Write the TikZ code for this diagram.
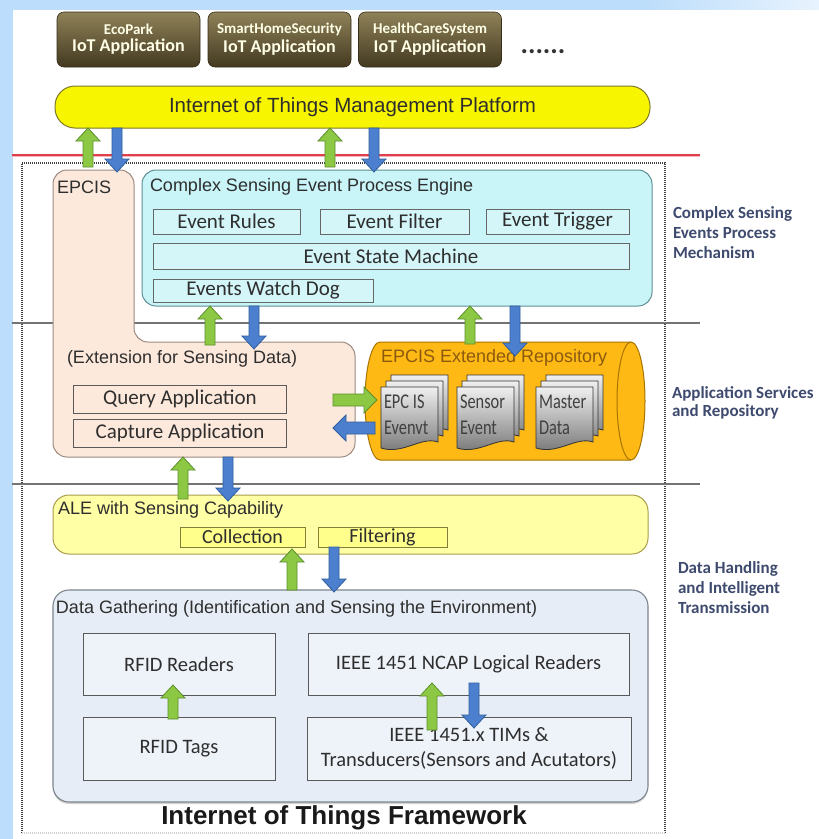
\documentclass[tikz,border=0pt]{standalone}
\usepackage{fontspec}
\setmainfont{Carlito}
\newfontfamily\titlefont{Liberation Sans}
\newfontfamily\condfont[FakeStretch=0.78]{Carlito}
\usetikzlibrary{calc,shadows}

\definecolor{bgblue}{HTML}{BCDDFB}
\definecolor{peach}{HTML}{FDE9DC}
\definecolor{peachline}{HTML}{9C8A80}
\definecolor{cyanfill}{HTML}{C9F4F8}
\definecolor{cyanline}{HTML}{5F8F95}
\definecolor{platyellow}{HTML}{F7F500}
\definecolor{yline}{HTML}{7E7A2A}
\definecolor{aleyellow}{HTML}{FFFFA6}
\definecolor{aleline}{HTML}{A89C4A}
\definecolor{subyellow}{HTML}{FFFF8C}
\definecolor{dgfill}{HTML}{E7EDF6}
\definecolor{dgline}{HTML}{7D858F}
\definecolor{repoorange}{HTML}{FFB914}
\definecolor{repoline}{HTML}{A87400}
\definecolor{repotext}{HTML}{8A5A10}
\definecolor{arrgreen}{HTML}{8DC844}
\definecolor{arrgreenline}{HTML}{5B8E2B}
\definecolor{arrblue}{HTML}{4C80CF}
\definecolor{arrblueline}{HTML}{2F5E9E}
\definecolor{labelblue}{HTML}{3E4A6E}
\definecolor{apptop}{HTML}{8F8259}
\definecolor{appbot}{HTML}{433920}
\definecolor{redline}{HTML}{E0404E}
\definecolor{boxtext}{HTML}{2E2E2E}

% block arrows: style, column x, start point, tip point
\newcommand\blkup[4]{%
  \path[#1] let \p1=(#3), \p2=(#4) in
    ({(#2-5)*1pt},{\y1}) -- ({(#2-5)*1pt},{\y2-13pt}) -- ({(#2-12)*1pt},{\y2-13pt})
    -- ({#2*1pt},{\y2}) -- ({(#2+12)*1pt},{\y2-13pt}) -- ({(#2+5)*1pt},{\y2-13pt})
    -- ({(#2+5)*1pt},{\y1}) -- cycle;}
\newcommand\blkdown[4]{%
  \path[#1] let \p1=(#3), \p2=(#4) in
    ({(#2-5)*1pt},{\y1}) -- ({(#2-5)*1pt},{\y2+13pt}) -- ({(#2-12)*1pt},{\y2+13pt})
    -- ({#2*1pt},{\y2}) -- ({(#2+12)*1pt},{\y2+13pt}) -- ({(#2+5)*1pt},{\y2+13pt})
    -- ({(#2+5)*1pt},{\y1}) -- cycle;}
% horizontal block arrows: style, row y, start point, tip point
\newcommand\blkright[4]{%
  \path[#1] let \p1=(#3), \p2=(#4) in
    (\x1,{-(#2-6)*1pt}) -- ({\x2-13pt},{-(#2-6)*1pt}) -- ({\x2-13pt},{-(#2-13)*1pt})
    -- (\x2,{-#2*1pt}) -- ({\x2-13pt},{-(#2+13)*1pt}) -- ({\x2-13pt},{-(#2+6)*1pt})
    -- (\x1,{-(#2+6)*1pt}) -- cycle;}
\newcommand\blkleft[4]{%
  \path[#1] let \p1=(#3), \p2=(#4) in
    (\x1,{-(#2-6)*1pt}) -- ({\x2+13pt},{-(#2-6)*1pt}) -- ({\x2+13pt},{-(#2-13)*1pt})
    -- (\x2,{-#2*1pt}) -- ({\x2+13pt},{-(#2+13)*1pt}) -- ({\x2+13pt},{-(#2+6)*1pt})
    -- (\x1,{-(#2+6)*1pt}) -- cycle;}

% one page of a stacked document, top-left corner given
\newcommand\docpage[2]{%
  \path[docpage] (#1,#2) -- (#1+57,#2) -- (#1+57,#2+55)
    .. controls (#1+40,#2+49) and (#1+22,#2+68) .. (#1,#2+61) -- cycle;}
\newcommand\docstack[4]{% name, x, y, text
  \docpage{#2+10}{#3-12}\docpage{#2+5}{#3-6}\docpage{#2}{#3}%
  \node[doctext] (#1) at (#2+3,#3+28) {#4};}

\tikzset{
  every node/.style={inner sep=0pt, outer sep=0pt},
  appbox/.style={rounded corners=7pt, top color=apptop, bottom color=appbot,
    draw=appbot!80!black, line width=0.6pt, minimum width=143pt, minimum height=55pt,
    text=white!90!yellow, align=center, font=\bfseries},
  platform/.style={rounded corners=20pt, fill=platyellow, draw=yline, line width=1pt,
    minimum width=595pt, minimum height=42pt},
  framebox/.style={draw=black!75, line width=1.1pt, dash pattern=on 1pt off 1pt},
  peachbox/.style={fill=peach, draw=peachline, line width=1pt, rounded corners=14pt},
  enginebox/.style={fill=cyanfill, draw=cyanline, line width=1pt, rounded corners=14pt,
    minimum width=510pt, minimum height=136pt},
  cyansub/.style={fill=cyanfill!80!white, draw=black!60, line width=0.9pt,
    font=\fontsize{21}{22}\selectfont, text=boxtext},
  peachsub/.style={fill=peach, draw=black!65, line width=0.9pt,
    minimum width=213pt, minimum height=28pt, font=\fontsize{21}{22}\selectfont, text=boxtext},
  alebox/.style={rounded corners=16pt, fill=aleyellow, draw=aleline, line width=1pt,
    minimum width=595pt, minimum height=59pt},
  alesub/.style={fill=subyellow, draw=aleline!80!black, line width=0.9pt,
    minimum height=20pt, font=\fontsize{20}{20}\selectfont, text=boxtext},
  dgbox/.style={rounded corners=16pt, fill=dgfill, draw=dgline, line width=1.1pt,
    minimum width=595pt, minimum height=212pt,
    drop shadow={shadow xshift=0pt, shadow yshift=-2pt, opacity=0.35}},
  dgsub/.style={fill=dgfill!70!white, draw=black!65, line width=0.9pt, align=center,
    font=\fontsize{20.5}{25}\selectfont, text=boxtext},
  repo/.style={fill=repoorange, draw=repoline, line width=1pt},
  docpage/.style={top color=black!6, bottom color=black!55, draw=black!80, line width=0.8pt},
  doctext/.style={anchor=west, align=left, font=\condfont\fontsize{21}{26}\selectfont, text=black!75},
  title/.style={anchor=west, font=\titlefont\fontsize{18}{20}\selectfont, text=boxtext},
  sidelabel/.style={anchor=north west, align=left, text=labelblue,
    font=\bfseries\fontsize{17}{20}\selectfont},
  sepline/.style={draw=black!55, line width=1.2pt},
  garrow/.style={fill=arrgreen, draw=arrgreenline, line width=0.8pt},
  barrow/.style={fill=arrblue, draw=arrblueline, line width=0.8pt},
}

\begin{document}
\begin{tikzpicture}[x=1pt, y=-1pt]
\useasboundingbox (0,0) rectangle (819,839);
% page background
\fill[bgblue] (0,0) rectangle (819,839);
\shade[left color=bgblue, right color=bgblue!35!white] (640,0) rectangle (819,10);
\fill[white] (13,10) rectangle (819,839);

% application layer
\node[appbox] (app1) at (128.5,39.5) {\fontsize{15}{18}\selectfont EcoPark\\[3pt]\fontsize{18}{20}\selectfont IoT Application};
\node[appbox] (app2) at (279.5,39.5) {\fontsize{15}{18}\selectfont SmartHomeSecurity\\[3pt]\fontsize{18}{20}\selectfont IoT Application};
\node[appbox] (app3) at (430,39.5) {\fontsize{15}{18}\selectfont HealthCareSystem\\[3pt]\fontsize{18}{20}\selectfont IoT Application};
\node[font=\bfseries\fontsize{28}{28}\selectfont, text=black!80] (more) at (543,52) {......};

\node[platform, font=\titlefont\fontsize{20.5}{22}\selectfont, text=boxtext] (platform) at (352.5,107) {Internet of Things Management Platform};

% boundary lines
\draw[draw=redline!40, line width=3pt] (12,155) -- (700,155);
\draw[draw=redline, line width=1.2pt] (12,155) -- (700,155);
\node[minimum width=643pt, minimum height=670pt] (frame) at (343.5,498) {};
\draw[framebox] (frame.south west) -- (frame.north west) -- (frame.north east) -- (frame.south east);
\draw[framebox, draw=black!18] (frame.south west) -- (frame.south east);
\draw[sepline] (12,323) -- (700,323);
\draw[sepline] (12,484) -- (700,484);

% EPCIS with its sensing-data extension
\path[peachbox] (200,457) -- (53,457) -- (53,170) -- (134,170) -- (134,342) -- (355,342) -- (355,457) -- cycle;
\coordinate (epcisN) at (94,170);
\coordinate (extN) at (250,342);
\coordinate (extS) at (200,457);
\coordinate (extE) at (355,400);
\node[title] (epcis) at (57,187) {EPCIS};
\node[title] (ext) at (67,359) {(Extension for Sensing Data)};
\node[peachsub] (query) at (180,399) {Query Application};
\node[peachsub] (capture) at (180,433) {Capture Application};

% complex sensing event process engine
\node[enginebox] (engine) at (397,238) {};
\node[title] (enginelbl) at (150,187) {Complex Sensing Event Process Engine};
\node[cyansub, minimum width=147pt, minimum height=25pt] (rules) at (226.5,221.5) {Event Rules};
\node[cyansub, minimum width=149pt, minimum height=25pt] (filter) at (394.5,221.5) {Event Filter};
\node[cyansub, minimum width=143pt, minimum height=25pt] (trigger) at (557.5,221.5) {Event Trigger};
\node[cyansub, minimum width=476pt, minimum height=26pt] (fsm) at (391,256) {Event State Machine};
\node[cyansub, minimum width=220pt, minimum height=23pt] (watchdog) at (263,290.5) {Events Watch Dog};

% EPCIS extended repository (horizontal cylinder)
\path[repo] (380,342) -- (631,342) arc[start angle=90, end angle=-90, x radius=14pt, y radius=59pt]
  -- (380,460) arc[start angle=270, end angle=90, x radius=15pt, y radius=59pt] -- cycle;
\draw[repoline, line width=1pt] (631,342) arc[start angle=90, end angle=270, x radius=14pt, y radius=59pt];
\coordinate (repoN) at (500,342);
\coordinate (repoW) at (365,400);
\node[anchor=west, font=\titlefont\fontsize{18}{20}\selectfont, text=repotext] (repolbl) at (381,358) {EPCIS Extended Repository};
\docstack{epcisev}{381}{387}{EPC IS\\Evenvt}
\docstack{sensorev}{457}{387}{Sensor\\Event}
\docstack{master}{536}{387}{Master\\Data}

% ALE layer
\node[alebox] (ale) at (350.5,524.5) {};
\node[title] (alelbl) at (58,510) {ALE with Sensing Capability};
\node[alesub, minimum width=125pt] (collection) at (242.5,537) {Collection};
\node[alesub, minimum width=129pt] (filtering) at (382.5,537) {Filtering};

% data gathering layer
\node[dgbox] (dg) at (350.5,696) {};
\node[title] (dglbl) at (56,609) {Data Gathering (Identification and Sensing the Environment)};
\node[dgsub, minimum width=192pt, minimum height=62pt] (readers) at (179,664) {RFID Readers};
\node[dgsub, minimum width=321pt, minimum height=62pt] (ncap) at (468.5,664) {IEEE 1451 NCAP Logical Readers};
\node[dgsub, minimum width=192pt, minimum height=63pt] (tags) at (179,748.5) {RFID Tags};
\node[dgsub, minimum width=324pt, minimum height=63pt] (tims) at (469,748.5) {IEEE 1451.x TIMs \&\\Transducers(Sensors and Acutators)};

\node[font=\titlefont\bfseries\fontsize{26}{28}\selectfont, text=black!90] (fwlbl) at (344,818) {Internet of Things Framework};

% layer names
\node[sidelabel] (lay1) at (673,207) {Complex Sensing\\Events Process\\Mechanism};
\node[sidelabel, font=\bfseries\fontsize{17}{18}\selectfont] (lay2) at (672,387) {Application Services\\and Repository};
\node[sidelabel] (lay3) at (678,562) {Data Handling\\and Intelligent\\Transmission};

% data flow between layers
\blkup{garrow}{88}{[yshift=-4pt]frame.north}{platform.south}
\blkdown{barrow}{117}{platform.south}{[yshift=-2pt]epcisN}
\blkup{garrow}{330}{[yshift=-4pt]frame.north}{platform.south}
\blkdown{barrow}{374}{platform.south}{[yshift=-2pt]engine.north}

\blkup{garrow}{210}{[yshift=-3pt]extN}{engine.south}
\blkdown{barrow}{254}{engine.south}{[yshift=-7pt]extN}
\blkup{garrow}{470}{[yshift=-2pt]repoN}{engine.south}
\blkdown{barrow}{515}{engine.south}{[yshift=-14pt]repoN}

\blkright{garrow}{400}{[xshift=-22pt]extE}{[xshift=12pt]repoW}
\blkleft{barrow}{428}{[xshift=10pt]repoW}{[xshift=-22pt]extE}

\blkup{garrow}{183}{[yshift=-4pt]ale.north}{extS}
\blkdown{barrow}{228}{extS}{[yshift=-6pt]ale.north}

\blkup{garrow}{292}{dg.north}{[yshift=-2pt]collection.south}
\blkdown{barrow}{334}{filtering.south}{[yshift=-2pt]dg.north}

\blkup{garrow}{173}{[yshift=-2pt]tags.north}{[yshift=10pt]readers.south}
\blkup{garrow}{432}{[yshift=-13pt]tims.north}{[yshift=12pt]ncap.south}
\blkdown{barrow}{474}{[yshift=12pt]ncap.south}{[yshift=-11pt]tims.north}
\end{tikzpicture}
\end{document}
